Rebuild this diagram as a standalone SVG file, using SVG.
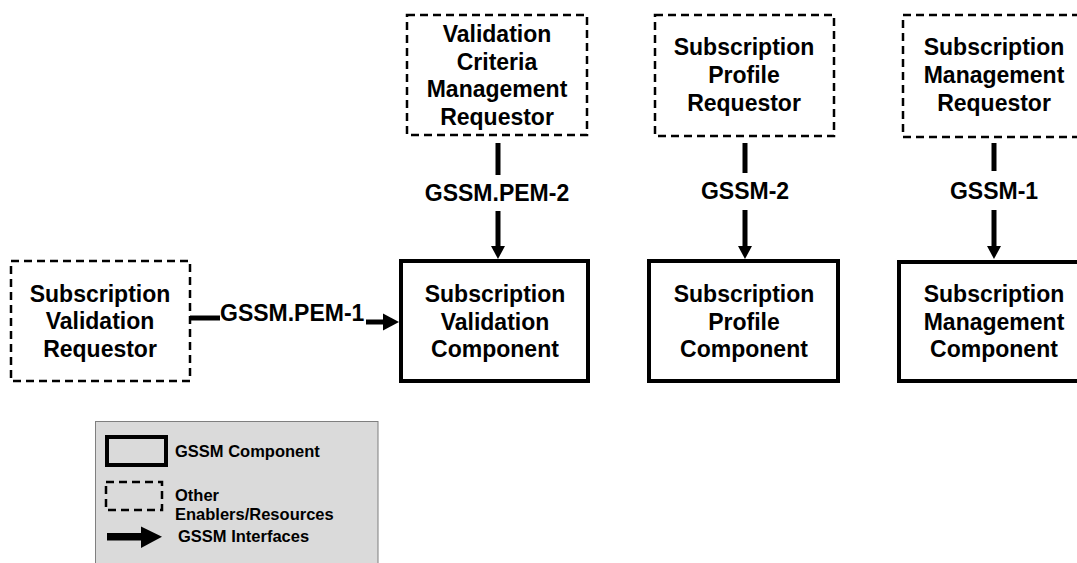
<svg xmlns="http://www.w3.org/2000/svg" width="1077" height="563" viewBox="0 0 1077 563">
<style>
  .t { font-family: "Liberation Sans", Arial, sans-serif; font-weight: bold; font-size: 23px; fill: #000; text-anchor: middle; }
  .lbl { font-family: "Liberation Sans", Arial, sans-serif; font-weight: bold; font-size: 23px; fill: #000; }
  .lg { font-family: "Liberation Sans", Arial, sans-serif; font-weight: bold; font-size: 16.5px; fill: #000; }
  .dash { fill: #fff; stroke: #000; stroke-width: 2.5; stroke-dasharray: 8 5; }
  .comp { fill: #fff; stroke: #000; stroke-width: 4; }
  .ln { stroke: #000; stroke-width: 5; fill: none; }
  .hd { fill: #000; }
</style>
<rect width="1077" height="563" fill="#fff"/>

<g id="vcm-requestor">
  <rect class="dash" x="407" y="15" width="180" height="120"/>
  <text class="t" x="497" y="42">Validation</text>
  <text class="t" x="497" y="69.5">Criteria</text>
  <text class="t" x="497" y="97">Management</text>
  <text class="t" x="497" y="124.5">Requestor</text>
</g>
<g id="sp-requestor">
  <rect class="dash" x="655" y="15" width="179" height="121"/>
  <text class="t" x="744" y="54.5">Subscription</text>
  <text class="t" x="744" y="82.5">Profile</text>
  <text class="t" x="744" y="110.5">Requestor</text>
</g>
<g id="sm-requestor">
  <rect class="dash" x="903" y="15" width="190" height="122"/>
  <text class="t" x="994" y="54.5">Subscription</text>
  <text class="t" x="994" y="82.5">Management</text>
  <text class="t" x="994" y="110.5">Requestor</text>
</g>
<g id="sv-requestor">
  <rect class="dash" x="11" y="261" width="179" height="120"/>
  <text class="t" x="100" y="302">Subscription</text>
  <text class="t" x="100" y="329">Validation</text>
  <text class="t" x="100" y="356.5">Requestor</text>
</g>
<g id="sv-component">
  <rect class="comp" x="401" y="261" width="187" height="120"/>
  <text class="t" x="495" y="302">Subscription</text>
  <text class="t" x="495" y="329.5">Validation</text>
  <text class="t" x="495" y="357">Component</text>
</g>
<g id="sp-component">
  <rect class="comp" x="649" y="261" width="189" height="120"/>
  <text class="t" x="744" y="302">Subscription</text>
  <text class="t" x="744" y="329.5">Profile</text>
  <text class="t" x="744" y="357">Component</text>
</g>
<g id="sm-component">
  <rect class="comp" x="899" y="262" width="190" height="119"/>
  <text class="t" x="994" y="302">Subscription</text>
  <text class="t" x="994" y="329.5">Management</text>
  <text class="t" x="994" y="357">Component</text>
</g>

<g id="connectors">
  <!-- GSSM.PEM-1 -->
  <line class="ln" x1="190" y1="318" x2="220" y2="318"/>
  <line class="ln" x1="366" y1="322" x2="385" y2="322"/>
  <polygon class="hd" points="383,313.5 399,322 383,330.5"/>
  <text class="lbl" x="220" y="321">GSSM.PEM-1</text>
  <!-- GSSM.PEM-2 -->
  <line class="ln" x1="498" y1="143" x2="498" y2="175"/>
  <line class="ln" x1="498" y1="211" x2="498" y2="248"/>
  <polygon class="hd" points="491,246 505,246 498,259"/>
  <text class="t" x="497" y="201">GSSM.PEM-2</text>
  <!-- GSSM-2 -->
  <line class="ln" x1="745" y1="143" x2="745" y2="173"/>
  <line class="ln" x1="745" y1="210" x2="745" y2="248"/>
  <polygon class="hd" points="738,246 752,246 745,259"/>
  <text class="t" x="745" y="199">GSSM-2</text>
  <!-- GSSM-1 -->
  <line class="ln" x1="994" y1="143" x2="994" y2="171"/>
  <line class="ln" x1="994" y1="210" x2="994" y2="248"/>
  <polygon class="hd" points="987,246 1001,246 994,259"/>
  <text class="t" x="994" y="199">GSSM-1</text>
</g>

<g id="legend">
  <rect x="95.5" y="421.5" width="282.5" height="150" fill="#dadada" stroke="#7f7f7f" stroke-width="1"/>
  <rect x="107" y="437" width="59" height="28" fill="none" stroke="#000" stroke-width="4"/>
  <text class="lg" x="175" y="457">GSSM Component</text>
  <rect x="106" y="482" width="56" height="28" fill="none" stroke="#000" stroke-width="2.5" stroke-dasharray="8 5"/>
  <text class="lg" x="175" y="501">Other</text>
  <text class="lg" x="175" y="520">Enablers/Resources</text>
  <rect x="107" y="533" width="36" height="7.5" fill="#000"/>
  <polygon points="141,526.5 162,536.7 141,548" fill="#000"/>
  <text class="lg" x="178" y="542">GSSM Interfaces</text>
</g>
</svg>
